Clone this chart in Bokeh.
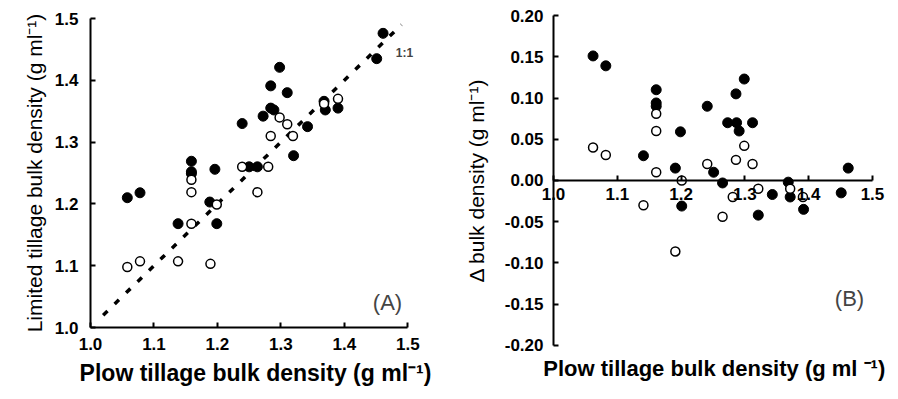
from bokeh.plotting import figure
from bokeh.layouts import row
from bokeh.models import Range1d, FixedTicker, PrintfTickFormatter, Label, LinearAxis
from bokeh.embed import file_html
from bokeh.resources import INLINE

# ---------------- Panel A: plow vs limited tillage bulk density ----------------
plow_filled_a = [1.058, 1.078, 1.159, 1.159, 1.159, 1.138, 1.196, 1.188, 1.199, 1.239,
                 1.250, 1.263, 1.284, 1.298, 1.272, 1.284, 1.289, 1.310, 1.461, 1.368,
                 1.320, 1.342, 1.370, 1.390, 1.451]
limited_filled_a = [1.210, 1.218, 1.269, 1.252, 1.249, 1.168, 1.256, 1.203, 1.168, 1.330,
                    1.260, 1.260, 1.391, 1.421, 1.342, 1.355, 1.352, 1.380, 1.476, 1.366,
                    1.278, 1.325, 1.352, 1.355, 1.435]
plow_open_a = [1.058, 1.078, 1.159, 1.159, 1.159, 1.199, 1.138, 1.189, 1.239, 1.263,
               1.284, 1.298, 1.310, 1.280, 1.319, 1.368, 1.390]
limited_open_a = [1.098, 1.107, 1.239, 1.219, 1.168, 1.199, 1.107, 1.103, 1.260, 1.219,
                  1.310, 1.340, 1.329, 1.260, 1.310, 1.362, 1.370]
one_to_one = [1.02, 1.49]

# ---------------- Panel B: plow vs delta bulk density ----------------
plow_filled_b = [1.062, 1.082, 1.161, 1.161, 1.161, 1.141, 1.199, 1.191, 1.201, 1.241,
                 1.251, 1.265, 1.286, 1.299, 1.273, 1.287, 1.291, 1.312, 1.462, 1.368,
                 1.321, 1.343, 1.371, 1.392, 1.451]
delta_filled_b = [0.151, 0.139, 0.110, 0.094, 0.090, 0.030, 0.059, 0.015, -0.031, 0.090,
                  0.010, -0.003, 0.105, 0.123, 0.070, 0.070, 0.060, 0.070, 0.015, -0.002,
                  -0.042, -0.017, -0.020, -0.035, -0.015]
plow_open_b = [1.062, 1.082, 1.161, 1.161, 1.161, 1.201, 1.141, 1.191, 1.241, 1.265,
               1.286, 1.299, 1.312, 1.281, 1.321, 1.371, 1.391]
delta_open_b = [0.040, 0.031, 0.081, 0.060, 0.010, 0.000, -0.030, -0.086, 0.020, -0.044,
                0.025, 0.042, 0.020, -0.020, -0.010, -0.010, -0.020]

x_ticks = [1.0, 1.1, 1.2, 1.3, 1.4, 1.5]
y_ticks_a = [1.0, 1.1, 1.2, 1.3, 1.4, 1.5]
y_ticks_b = [-0.20, -0.15, -0.10, -0.05, 0.00, 0.05, 0.10, 0.15, 0.20]

FONT = "Liberation Sans"


def style_axis(ax, ticks, fmt):
    ax.ticker = FixedTicker(ticks=ticks)
    ax.formatter = PrintfTickFormatter(format=fmt)
    ax.axis_line_color = "black"
    ax.axis_line_width = 2
    ax.major_tick_line_color = "black"
    ax.major_tick_line_width = 2
    ax.major_tick_in = 5
    ax.major_tick_out = 0
    ax.minor_tick_line_color = None
    ax.major_label_text_font = FONT
    ax.major_label_text_font_style = "bold"
    ax.major_label_text_font_size = "17px"
    ax.major_label_text_color = "black"
    ax.axis_label_text_font = FONT
    ax.axis_label_text_color = "black"
    ax.axis_label_text_font_size = "21px"


def base_fig(width, xr, yr, **kw):
    p = figure(width=width, height=399, x_range=xr, y_range=yr,
               output_backend="svg", toolbar_location=None, **kw)
    p.outline_line_color = None
    p.grid.visible = False
    p.background_fill_color = "white"
    p.border_fill_color = "white"
    p.frame_align = False
    return p


# ---------------- Figure A ----------------
pa = base_fig(445, Range1d(1.0, 1.52), Range1d(1.0, 1.5),
              min_border_left=90, min_border_right=25, min_border_top=18, min_border_bottom=72)
style_axis(pa.xaxis[0], x_ticks, "%.1f")
style_axis(pa.yaxis[0], y_ticks_a, "%.1f")
pa.xaxis.bounds = (1.0, 1.5)
pa.xaxis.major_label_standoff = 10
pa.yaxis.major_label_standoff = 12
pa.xaxis.axis_label = "Plow tillage bulk density (g ml\u207b\u00b9)"
pa.xaxis.axis_label_text_font_style = "bold"
pa.xaxis.axis_label_text_font_size = "23px"
pa.xaxis.axis_label_standoff = 7
pa.yaxis.axis_label = "Limited tillage bulk density (g ml\u207b\u00b9)"
pa.yaxis.axis_label_text_font_style = "normal"
pa.yaxis.axis_label_standoff = 6

pa.line(one_to_one, one_to_one, line_color="black", line_width=3.5, line_dash="6 10")
pa.scatter(plow_filled_a, limited_filled_a, size=10, marker="circle",
           fill_color="black", line_color="black", line_width=1)
pa.scatter(plow_open_a, limited_open_a, size=9, marker="circle",
           fill_color="white", line_color="black", line_width=1.5)
pa.add_layout(Label(x=1.481, y=1.444, text="1:1", text_font=FONT, text_font_style="bold",
                    text_font_size="12px", text_baseline="middle", text_align="left"))
pa.add_layout(Label(x=1.468, y=1.04, text="(A)", text_font=FONT,
                    text_font_size="22px", text_baseline="middle", text_align="center"))

# ---------------- Figure B (frame covers whole canvas, axes fixed in data space) ----------------
pb = base_fig(453, Range1d(0.8307, 1.5408), Range1d(-0.2655, 0.2182),
              min_border=0, x_axis_location=None, y_axis_location=None)

xb = LinearAxis(fixed_location=0.0)
style_axis(xb, x_ticks, "%.1f")
xb.bounds = (1.0, 1.5)
xb.major_label_standoff = 8
pb.add_layout(xb, "below")

yb = LinearAxis(fixed_location=1.0)
style_axis(yb, y_ticks_b, "%.2f")
yb.bounds = (-0.2, 0.2)
yb.major_label_standoff = 10
yb.axis_label = "\u0394 bulk density (g ml\u207b\u00b9)"
yb.axis_label_text_font_style = "normal"
yb.axis_label_standoff = 14
pb.add_layout(yb, "left")

pb.scatter(plow_filled_b, delta_filled_b, size=10, marker="circle",
           fill_color="black", line_color="black", line_width=1)
pb.scatter(plow_open_b, delta_open_b, size=9, marker="circle",
           fill_color="white", line_color="black", line_width=1.5)
pb.add_layout(Label(x=1.252, y=-0.228, text="Plow tillage bulk density (g ml \u207b\u00b9)",
                    text_font=FONT, text_font_style="bold", text_font_size="22px",
                    text_baseline="middle", text_align="center", text_color="black"))
pb.add_layout(Label(x=1.464, y=-0.143, text="(B)", text_font=FONT,
                    text_font_size="22px", text_baseline="middle", text_align="center"))

layout = row(pa, pb)
open("out.html", "w").write(file_html(layout, INLINE))
